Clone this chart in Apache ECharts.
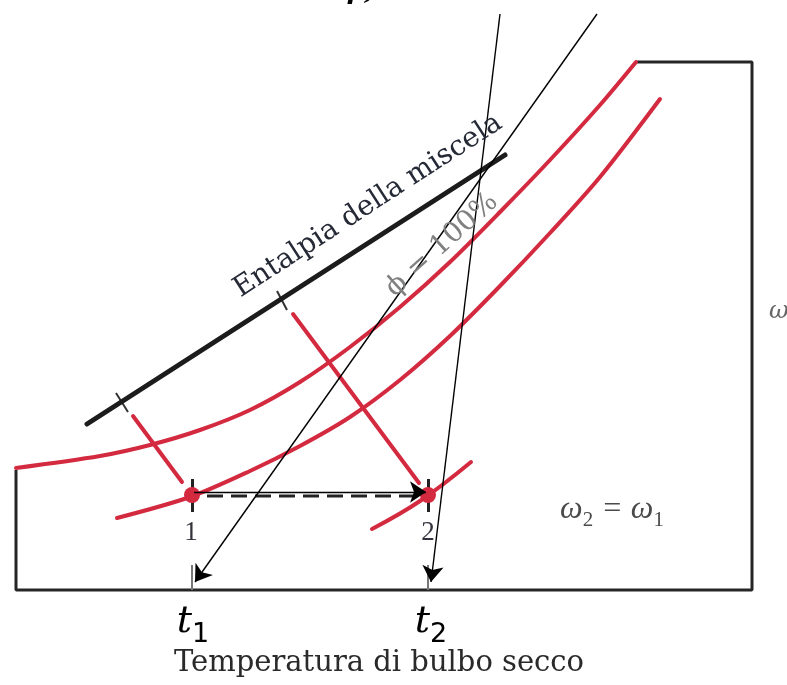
<!DOCTYPE html>
<html>
<head>
<meta charset="utf-8">
<script src="https://cdn.jsdelivr.net/npm/echarts@6/dist/echarts.min.js"></script>
<style>
  html, body { margin: 0; padding: 0; background: #fff; }
  #chart { width: 787px; height: 685px; }
</style>
</head>
<body>
<div id="chart"></div>
<script>
// diagram coordinates (x to the right, y downward)
const frame = [[16, 470], [16, 590], [752, 590], [752, 62], [636, 62]];
const saturationCurve = [[16, 468], [100, 456], [150, 445], [200, 430], [250, 410], [300, 382],
  [350, 347], [400, 307], [450, 262], [500, 212], [550, 160], [600, 105], [636, 62]];
const humidityCurve = [[117, 518], [190, 497], [250, 471], [300, 446], [350, 417], [400, 380],
  [450, 336], [500, 286], [550, 233], [600, 177], [660, 99]];
const curveThrough2 = [[372, 529], [420, 501], [471, 462]];
const enthalpyLine = [[87, 424], [505, 155]];
const enthalpyTicks = [[[116, 393], [128, 412]], [[277, 291], [287, 310]]];
const redConnectors = [[[133, 416], [182, 482]], [[293, 314], [419, 483]]];
const states = [[192, 495], [428, 495]];
const stateTicks = [[[192, 479], [192, 512]], [[428, 479], [428, 512]]];
const axisTicks = [[[192, 565], [192, 590]], [[428, 565], [428, 590]]];
const dashedPath = [[207, 496], [416, 496]];
const arrow12 = [[194, 492], [426, 492]];
const arrowsToAxis = [[[597, 14], [195, 582]], [[500, 14], [431, 582]]];

const stateLabels = [['1', 191, 533], ['2', 428, 533]];
const tLabels = [['{t|t}{s|1}', 193, 622], ['{t|t}{s|2}', 431, 622]];
const enthalpyLabel = ['Entalpia della miscela', 368, 206, 33];
const phiLabel = ['ϕ = 100%', 442, 245, 42];
const omegaLabel = ['{w|ω}{s|2}{w| = ω}{s|1}', 612, 510];
const axisTitle = ['Temperatura di bulbo secco', 379, 663];

const RED = '#d42a40';
const INK = '#1c1c1c';

const chart = echarts.init(document.getElementById('chart'));

const segs = (list) => list.map(c => ({ coords: c }));

const option = {
  animation: false,
  backgroundColor: '#fff',
  grid: { left: 0, right: 0, top: 0, bottom: 0 },
  xAxis: { type: 'value', min: 0, max: 787, show: false },
  yAxis: { type: 'value', min: 0, max: 685, inverse: true, show: false },
  series: [
    {
      type: 'line', data: frame, showSymbol: false, silent: true,
      lineStyle: { color: '#262626', width: 3 }, z: 2
    },
    {
      type: 'line', data: saturationCurve, smooth: 0.3, showSymbol: false,
      lineStyle: { color: RED, width: 4, cap: 'round' }, z: 3
    },
    {
      type: 'line', data: humidityCurve, smooth: 0.3, showSymbol: false,
      lineStyle: { color: RED, width: 4, cap: 'round' }, z: 3
    },
    {
      type: 'line', data: curveThrough2, smooth: 0.4, showSymbol: false,
      lineStyle: { color: RED, width: 4, cap: 'round' }, z: 3
    },
    {
      type: 'lines', coordinateSystem: 'cartesian2d', data: segs(redConnectors),
      lineStyle: { color: RED, width: 4, cap: 'round', opacity: 1 }, z: 3
    },
    {
      type: 'line', data: enthalpyLine, showSymbol: false,
      lineStyle: { color: INK, width: 5, cap: 'round' }, z: 3
    },
    {
      type: 'lines', coordinateSystem: 'cartesian2d', data: segs(enthalpyTicks),
      lineStyle: { color: '#333', width: 2, opacity: 1 }, z: 3
    },
    {
      type: 'lines', coordinateSystem: 'cartesian2d', data: segs(stateTicks),
      lineStyle: { color: '#222', width: 3, opacity: 1 }, z: 3
    },
    {
      type: 'lines', coordinateSystem: 'cartesian2d', data: segs(axisTicks),
      lineStyle: { color: '#777', width: 2, opacity: 1 }, z: 3
    },
    {
      type: 'line', data: dashedPath, showSymbol: false,
      lineStyle: { color: '#222', width: 3, type: [16, 8] }, z: 3
    },
    {
      type: 'scatter', data: states, symbol: 'circle', symbolSize: 16,
      itemStyle: { color: RED, opacity: 1 }, z: 8
    },
    {
      type: 'lines', coordinateSystem: 'cartesian2d',
      data: segs([arrow12]).concat(segs(arrowsToAxis)),
      symbol: ['none', 'arrow'], symbolSize: [14, 16],
      itemStyle: { color: '#000', opacity: 1 },
      lineStyle: { color: '#000', width: 1.4, opacity: 1 }, z: 9
    },
    {
      type: 'scatter', symbolSize: 0, clip: false, silent: true, z: 10,
      itemStyle: { opacity: 1 },
      data: [
        ...stateLabels.map(([t, x, y]) => ({
          value: [x, y], name: t,
          label: { fontSize: 27, color: '#33333d', fontFamily: 'Liberation Serif' }
        })),
        ...tLabels.map(([t, x, y]) => ({
          value: [x, y], name: t,
          label: {
            rich: {
              t: { fontSize: 38, fontStyle: 'italic', fontFamily: 'DejaVu Serif', color: '#000', verticalAlign: 'bottom' },
              s: { fontSize: 27, fontFamily: 'DejaVu Sans', color: '#000', verticalAlign: 'bottom', padding: [0, 0, -7, 0] }
            }
          }
        })),
        {
          value: [enthalpyLabel[1], enthalpyLabel[2]], name: enthalpyLabel[0],
          label: { rotate: enthalpyLabel[3], fontSize: 28, color: '#262a36', fontFamily: 'DejaVu Serif' }
        },
        {
          value: [phiLabel[1], phiLabel[2]], name: phiLabel[0],
          label: { rotate: phiLabel[3], fontSize: 28, color: '#808080', fontFamily: 'DejaVu Serif' }
        },
        {
          value: [omegaLabel[1], omegaLabel[2]], name: omegaLabel[0],
          label: {
            rich: {
              w: { fontSize: 32, fontStyle: 'italic', fontFamily: 'Liberation Serif', color: '#4a4a4a', verticalAlign: 'bottom' },
              s: { fontSize: 21, fontFamily: 'Liberation Serif', color: '#4a4a4a', verticalAlign: 'bottom', padding: [0, 0, -5, 0] }
            }
          }
        },
        {
          value: [axisTitle[1], axisTitle[2]], name: axisTitle[0],
          label: { fontSize: 29, color: '#2a2a2a', fontFamily: 'DejaVu Serif' }
        },
        {
          value: [769, 312], name: 'ω',
          label: { fontSize: 24, color: '#666', fontStyle: 'italic', fontFamily: 'DejaVu Serif', align: 'left' }
        },
        {
          value: [362, 5], name: 'p)',
          label: { fontSize: 26, color: '#000', fontStyle: 'italic', fontWeight: 'bold', fontFamily: 'DejaVu Serif', verticalAlign: 'bottom' }
        }
      ],
      label: { show: true, position: 'inside', formatter: '{b}' }
    }
  ]
};

chart.setOption(option);
</script>
</body>
</html>
